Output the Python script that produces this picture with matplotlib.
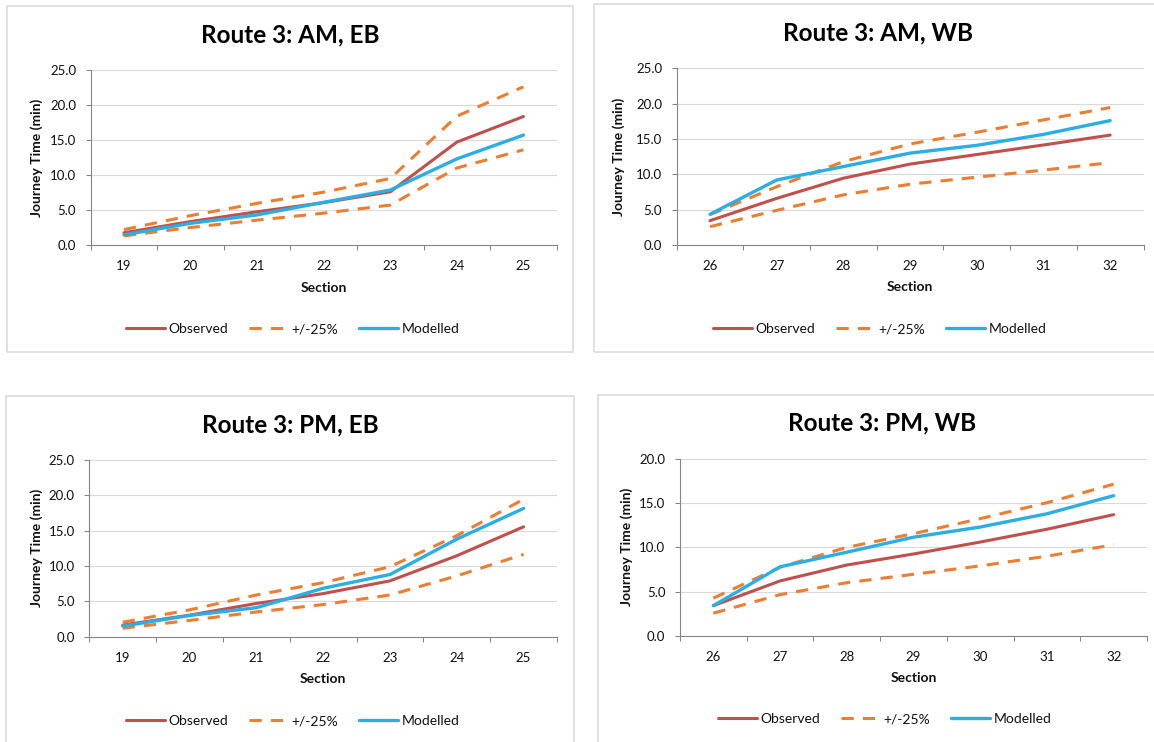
import numpy as np
import matplotlib
matplotlib.use("Agg")
import matplotlib.pyplot as plt
from matplotlib.patches import Rectangle
from matplotlib.ticker import FormatStrFormatter

plt.rcParams['font.family'] = ['Lato', 'DejaVu Sans']

# ---------------- data ----------------
eb_sections = ["19", "20", "21", "22", "23", "24", "25"]
wb_sections = ["26", "27", "28", "29", "30", "31", "32"]

am_eb_observed = [1.75, 3.35, 4.75, 6.05, 7.6, 14.7, 18.35]
am_eb_upper = [2.2, 4.2, 5.95, 7.55, 9.5, 18.4, 22.6]
am_eb_lower = [1.3, 2.5, 3.55, 4.55, 5.7, 11.0, 13.6]
am_eb_modelled = [1.45, 3.1, 4.3, 6.1, 7.85, 12.3, 15.7]

am_wb_observed = [3.45, 6.6, 9.45, 11.45, 12.8, 14.15, 15.55]
am_wb_upper = [4.3, 8.25, 11.8, 14.3, 15.95, 17.7, 19.45]
am_wb_lower = [2.6, 4.9, 7.1, 8.6, 9.6, 10.6, 11.65]
am_wb_modelled = [4.35, 9.2, 11.1, 13.0, 14.1, 15.65, 17.6]

pm_eb_observed = [1.65, 3.05, 4.7, 6.1, 7.9, 11.45, 15.55]
pm_eb_upper = [2.05, 3.8, 5.9, 7.65, 9.9, 14.3, 19.45]
pm_eb_lower = [1.2, 2.3, 3.5, 4.55, 5.9, 8.6, 11.65]
pm_eb_modelled = [1.5, 3.0, 4.1, 6.85, 8.8, 13.8, 18.15]

pm_wb_observed = [3.4, 6.2, 8.0, 9.25, 10.6, 12.05, 13.7]
pm_wb_upper = [4.25, 7.75, 10.0, 11.55, 13.25, 15.05, 17.15]
pm_wb_lower = [2.55, 4.65, 6.0, 6.95, 7.9, 9.0, 10.3]
pm_wb_modelled = [3.4, 7.8, 9.45, 11.15, 12.3, 13.8, 15.85]

titles = ["Route 3: AM, EB", "Route 3: AM, WB", "Route 3: PM, EB", "Route 3: PM, WB"]

# ---------------- style ----------------
RED = "#C0504D"
ORANGE = "#ED7D31"
BLUE = "#2AAEE3"
GRID = "#D9D9D9"
AXIS = "#868686"
BORDER = "#D9D9D9"
TEXT = "#111111"

W, H = 1154, 742
fig = plt.figure(figsize=(W / 100, H / 100), dpi=100)
fig.patch.set_facecolor("white")


def fx(x):
    return x / W


def fy(y):
    return 1 - y / H


def panel(frame, plot_box, title_xy, ylabel_x, section_y, legend_xy,
          sections, observed, upper, lower, modelled, ymax, title):
    # chart border
    fl, ft, fr, fb = frame
    fig.patches.append(Rectangle((fx(fl), fy(fb)), fx(fr) - fx(fl), fy(ft) - fy(fb),
                                 transform=fig.transFigure, fill=False,
                                 edgecolor=BORDER, lw=1.1, zorder=0))
    l, t, r, b = plot_box
    ax = fig.add_axes([fx(l), fy(b), (r - l) / W, (b - t) / H])
    n = len(sections)
    x = np.arange(n)
    dash = (0, (4.0, 3.0))
    ax.plot(x, observed, color=RED, lw=2.2, solid_capstyle="round",
            solid_joinstyle="round", label="Observed", zorder=3)
    ax.plot(x, upper, color=ORANGE, lw=2.2, ls=dash, label="+/-25%", zorder=3)
    ax.plot(x, lower, color=ORANGE, lw=2.2, ls=dash, zorder=3)
    ax.plot(x, modelled, color=BLUE, lw=2.4, solid_capstyle="round",
            solid_joinstyle="round", label="Modelled", zorder=4)

    ax.set_xlim(-0.5, n - 0.5)
    ax.set_ylim(0, ymax)
    ax.set_yticks(np.arange(0, ymax + 0.1, 5))
    ax.yaxis.set_major_formatter(FormatStrFormatter("%.1f"))
    ax.set_xticks(np.arange(-0.5, n, 1.0))
    ax.set_xticklabels([])
    ax.set_xticks(x, minor=True)
    ax.set_xticklabels(sections, minor=True)
    ax.tick_params(axis="x", which="major", length=3.5, width=0.75,
                   color=AXIS, direction="out")
    ax.tick_params(axis="x", which="minor", length=0, pad=11.0,
                   labelsize=9.5, labelcolor=TEXT)
    ax.tick_params(axis="y", length=3.5, width=0.75, color=AXIS, pad=7,
                   labelsize=9.5, labelcolor=TEXT)
    ax.grid(axis="y", color=GRID, lw=0.8)
    ax.set_axisbelow(True)
    for s in ("top", "right"):
        ax.spines[s].set_visible(False)
    for s in ("left", "bottom"):
        ax.spines[s].set_color(AXIS)
        ax.spines[s].set_linewidth(0.8)

    fig.text(fx(title_xy[0]), fy(title_xy[1]), title, ha="center", va="center",
             fontsize=17.5, fontweight="bold", color="black")
    fig.text(fx(ylabel_x), fy((t + b) / 2), "Journey Time (min)", rotation=90,
             ha="center", va="center", fontsize=10, fontweight="bold", color=TEXT)
    fig.text(fx((l + r) / 2), fy(section_y), "Section", ha="center", va="center",
             fontsize=10, fontweight="bold", color=TEXT)

    handles, labels = ax.get_legend_handles_labels()
    fig.legend(handles, labels, loc="center", ncol=3,
               bbox_to_anchor=(fx(legend_xy[0]), fy(legend_xy[1])),
               bbox_transform=fig.transFigure, frameon=False, fontsize=10,
               handlelength=2.8, handletextpad=0.25, columnspacing=1.5,
               labelcolor=TEXT)
    return ax


panel((7, 6, 573, 352), (90.7, 70, 556.7, 245), (290, 35), 37, 288, (293, 329),
      eb_sections, am_eb_observed, am_eb_upper, am_eb_lower, am_eb_modelled, 25, titles[0])
panel((594, 4, 1162, 352), (676.7, 68.3, 1143.5, 245), (878, 33), 619, 287, (880, 329),
      wb_sections, am_wb_observed, am_wb_upper, am_wb_lower, am_wb_modelled, 25, titles[1])
panel((6, 396, 574, 760), (89.3, 460, 557, 636.7), (290, 425), 37, 679, (293, 721),
      eb_sections, pm_eb_observed, pm_eb_upper, pm_eb_lower, pm_eb_modelled, 25, titles[2])
panel((598, 395, 1166, 760), (680, 459, 1147, 635.7), (882, 423), 627, 678, (885, 719),
      wb_sections, pm_wb_observed, pm_wb_upper, pm_wb_lower, pm_wb_modelled, 20, titles[3])

fig.savefig("out.png", dpi=100, facecolor="white")
